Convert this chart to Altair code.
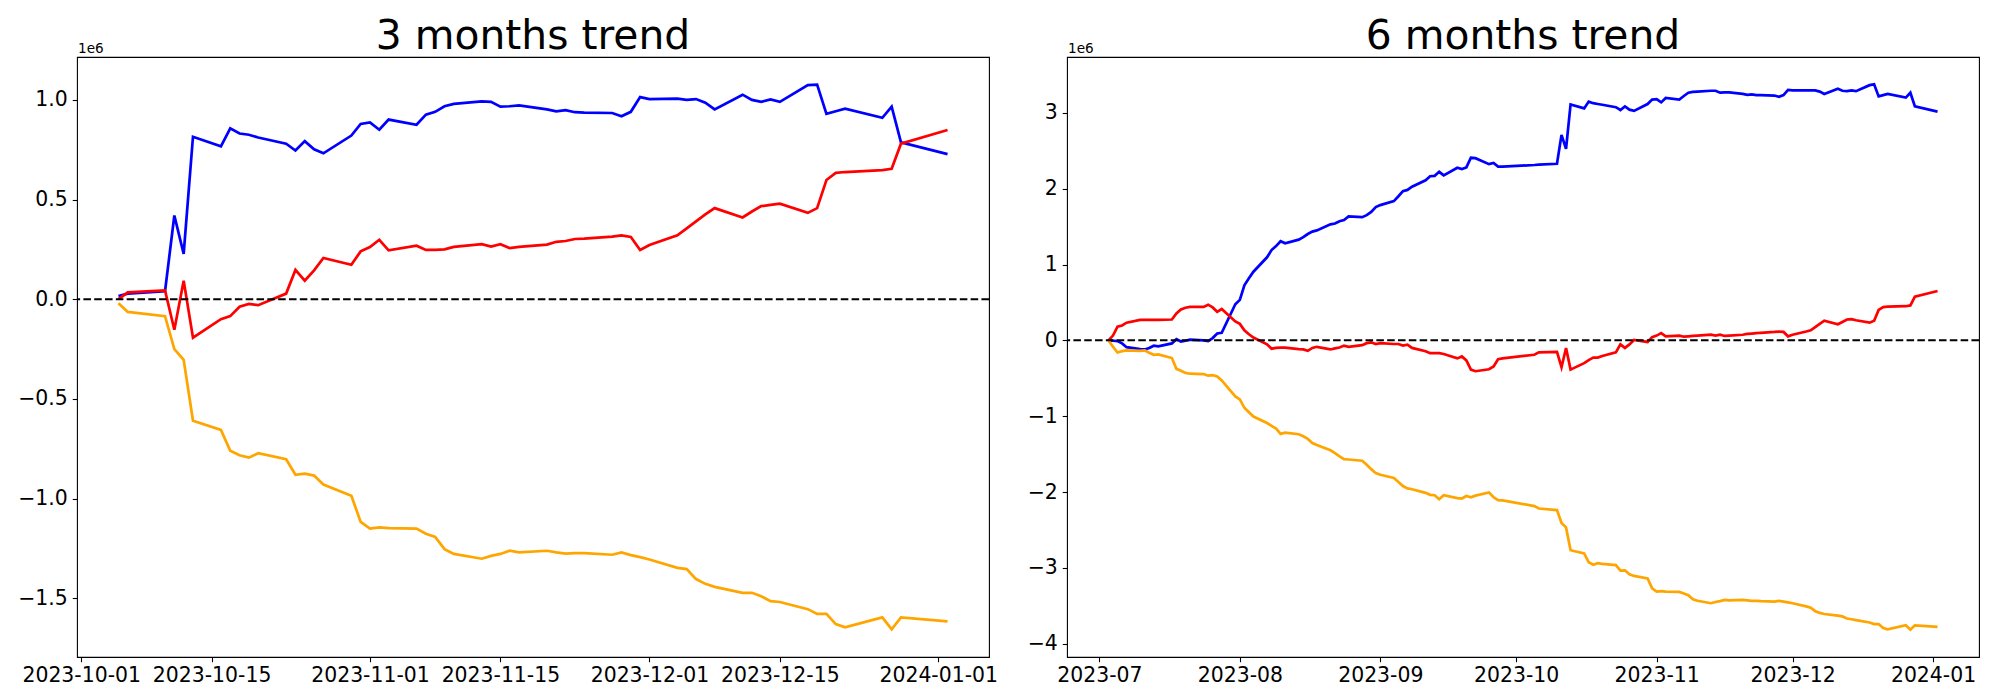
import altair as alt
import pandas as pd

# ---------------- 6 months panel ----------------
days_6m = {
    "2023-07": [3, 4, 5, 6, 7, 10, 11, 12, 13, 14, 17, 18, 19, 20, 21, 24, 25, 26, 27, 28, 31],
    "2023-08": [1, 2, 3, 4, 7, 8, 9, 10, 11, 14, 15, 16, 17, 18, 21, 22, 23, 24, 25, 28, 29, 30, 31],
    "2023-09": [1, 4, 5, 6, 7, 8, 11, 12, 13, 14, 15, 18, 19, 20, 21, 22, 25, 26, 27, 28],
    "2023-10": [5, 6, 10, 11, 12, 13, 16, 17, 18, 19, 20, 23, 24, 25, 26, 27, 30, 31],
    "2023-11": [1, 2, 3, 6, 7, 8, 9, 10, 13, 14, 15, 16, 17, 20, 21, 22, 23, 24, 27, 28, 29, 30],
    "2023-12": [1, 4, 5, 6, 7, 8, 11, 12, 13, 14, 15, 18, 19, 20, 21, 22, 26, 27, 28],
    "2024-01": [2],
}

blue_6m = [
    0.0, -0.005, -0.01, -0.04, -0.09, -0.116, -0.12, -0.10, -0.07, -0.08, -0.04, 0.015, -0.015, -0.005, 0.01, 0.0, -0.01, 0.03, 0.09, 0.10, 0.476,
    0.534, 0.725, 0.82, 0.905, 1.095, 1.19, 1.243, 1.307, 1.28, 1.328, 1.36, 1.402, 1.434, 1.45, 1.53, 1.54, 1.571, 1.587, 1.635, 1.624, 1.651, 1.693, 1.757,
    1.783, 1.836, 1.90, 1.968, 1.984, 2.026, 2.111, 2.164, 2.169, 2.222, 2.175, 2.275, 2.259, 2.28, 2.407, 2.402, 2.323, 2.339, 2.291, 2.291,
    2.312, 2.317, 2.328, 2.709, 2.524, 3.111, 3.058, 3.148, 3.127, 3.116, 3.106, 3.074, 3.037, 3.085, 3.042, 3.026, 3.116, 3.175,
    3.18, 3.138, 3.196, 3.175, 3.222, 3.265, 3.275, 3.28, 3.291, 3.291, 3.265, 3.27, 3.27, 3.249, 3.238, 3.243, 3.233, 3.233, 3.228, 3.212, 3.233, 3.302,
    3.296, 3.296, 3.296, 3.296, 3.28, 3.249, 3.317, 3.291, 3.286, 3.296, 3.286, 3.365, 3.376, 3.217, 3.233, 3.249, 3.201, 3.265, 3.085,
    3.016,
]
red_6m = [
    0.0, 0.063, 0.18, 0.196, 0.233, 0.27, 0.27, 0.27, 0.27, 0.27, 0.275, 0.355, 0.407, 0.43, 0.44, 0.44, 0.47, 0.434, 0.376, 0.413, 0.25,
    0.217, 0.132, 0.08, 0.037, -0.053, -0.11, -0.10, -0.095, -0.095, -0.116, -0.12, -0.138, -0.10, -0.085, -0.12, -0.106, -0.095, -0.069, -0.085, -0.063, -0.037, -0.026, -0.048,
    -0.037, -0.048, -0.048, -0.069, -0.058, -0.10, -0.143, -0.169, -0.169, -0.169, -0.18, -0.238, -0.212, -0.265, -0.386, -0.407, -0.381, -0.344, -0.249, -0.238,
    -0.19, -0.159, -0.153, -0.354, -0.10, -0.386, -0.30, -0.26, -0.228, -0.228, -0.206, -0.159, -0.053, -0.10, -0.053, 0.005, -0.021, 0.042,
    0.063, 0.095, 0.053, 0.063, 0.048, 0.053, 0.058, 0.063, 0.074, 0.063, 0.074, 0.058, 0.063, 0.074, 0.085, 0.09, 0.095, 0.10, 0.111, 0.116, 0.111, 0.053,
    0.074, 0.116, 0.132, 0.175, 0.217, 0.259, 0.212, 0.243, 0.275, 0.28, 0.265, 0.233, 0.259, 0.402, 0.439, 0.444, 0.45, 0.46, 0.577,
    0.651,
]
orange_6m = [
    0.0, -0.085, -0.16, -0.143, -0.132, -0.138, -0.132, -0.164, -0.19, -0.185, -0.233, -0.376, -0.402, -0.43, -0.44, -0.444, -0.466, -0.46, -0.476, -0.529, -0.74,
    -0.778, -0.889, -0.947, -1.005, -1.09, -1.127, -1.164, -1.233, -1.217, -1.238, -1.265, -1.30, -1.354, -1.38, -1.45, -1.487, -1.529, -1.566, -1.571, -1.587, -1.64, -1.698, -1.751,
    -1.772, -1.815, -1.868, -1.921, -1.952, -1.963, -2.011, -2.037, -2.042, -2.095, -2.042, -2.079, -2.085, -2.053, -2.069, -2.048, -2.005, -2.069, -2.106, -2.111,
    -2.185, -2.217, -2.238, -2.407, -2.466, -2.767, -2.81, -2.926, -2.958, -2.937, -2.947, -2.963, -3.037, -3.032, -3.085, -3.106, -3.138, -3.27,
    -3.312, -3.307, -3.312, -3.317, -3.339, -3.36, -3.413, -3.434, -3.466, -3.45, -3.439, -3.423, -3.429, -3.423, -3.429, -3.434, -3.434, -3.439, -3.444, -3.434, -3.444, -3.455,
    -3.466, -3.508, -3.524, -3.571, -3.593, -3.608, -3.63, -3.64, -3.667, -3.677, -3.688, -3.72, -3.741, -3.741, -3.794, -3.81, -3.757, -3.815, -3.757,
    -3.778,
]

# ---------------- 3 months panel ----------------
days_3m = {
    "2023-10": [5, 6, 10, 11, 12, 13, 16, 17, 18, 19, 20, 23, 24, 25, 26, 27, 30, 31],
    "2023-11": [1, 2, 3, 6, 7, 8, 9, 10, 13, 14, 15, 16, 17, 20, 21, 22, 23, 24, 27, 28, 29, 30],
    "2023-12": [1, 4, 5, 6, 7, 8, 11, 12, 13, 14, 15, 18, 19, 20, 21, 22, 26, 27, 28],
    "2024-01": [2],
}
blue_3m = [
    0.016, 0.028, 0.04, 0.42, 0.227, 0.815, 0.767, 0.857, 0.831, 0.825, 0.811, 0.78, 0.746, 0.793, 0.752, 0.732, 0.821, 0.879,
    0.887, 0.85, 0.901, 0.875, 0.926, 0.94, 0.968, 0.98, 0.992, 0.99, 0.966, 0.968, 0.972, 0.952, 0.942, 0.948, 0.938, 0.936, 0.934, 0.918, 0.94, 1.014,
    1.004, 1.006, 1.0, 1.004, 0.986, 0.952, 1.026, 1.0, 0.99, 1.002, 0.99, 1.074, 1.076, 0.93, 0.943, 0.956, 0.91, 0.966, 0.787,
    0.728,
]
red_3m = [
    0.0, 0.034, 0.044, -0.153, 0.093, -0.193, -0.10, -0.085, -0.038, -0.024, -0.03, 0.028, 0.147, 0.093, 0.145, 0.207, 0.173, 0.24,
    0.262, 0.298, 0.245, 0.268, 0.247, 0.247, 0.25, 0.262, 0.276, 0.264, 0.276, 0.256, 0.262, 0.274, 0.288, 0.292, 0.302, 0.304, 0.314, 0.32, 0.312, 0.247,
    0.272, 0.32, 0.355, 0.39, 0.425, 0.457, 0.41, 0.44, 0.467, 0.473, 0.479, 0.433, 0.457, 0.598, 0.634, 0.638, 0.648, 0.654, 0.78,
    0.849,
]
orange_3m = [
    -0.02, -0.064, -0.085, -0.25, -0.304, -0.61, -0.656, -0.76, -0.783, -0.795, -0.773, -0.803, -0.881, -0.875, -0.885, -0.93, -0.986, -1.117,
    -1.151, -1.145, -1.149, -1.151, -1.177, -1.193, -1.254, -1.278, -1.302, -1.288, -1.278, -1.262, -1.27, -1.262, -1.27, -1.276, -1.274, -1.274, -1.282, -1.27, -1.284, -1.294,
    -1.306, -1.348, -1.354, -1.404, -1.428, -1.443, -1.473, -1.473, -1.49, -1.515, -1.519, -1.555, -1.579, -1.579, -1.63, -1.646, -1.596, -1.656, -1.596,
    -1.616,
]

SERIES = ["blue", "red", "orange"]
COLORS = ["#0000ff", "#ff0000", "#ffa500"]
SCALE = 1e6  # values above are in units of 1e6

PANEL_W = 912
PANEL_H = 600


def expand_dates(days):
    out = []
    for ym, ds in days.items():
        out += ["%s-%02d" % (ym, d) for d in ds]
    return out


def long_frame(dates, series_values):
    rows = []
    for name, vals in zip(SERIES, series_values):
        assert len(vals) == len(dates)
        for d, v in zip(dates, vals):
            rows.append({"date": d, "value": v * SCALE, "series": name})
    return pd.DataFrame(rows)


df3 = long_frame(expand_dates(days_3m), [blue_3m, red_3m, orange_3m])
df6 = long_frame(expand_dates(days_6m), [blue_6m, red_6m, orange_6m])

FONT = "DejaVu Sans"


def DT(y, m, d, h=0, mi=0):
    return alt.DateTime(year=y, month=m, date=d, hours=h, minutes=mi, utc=True)


def panel(df, title, xdomain, xticks, xfmt, ydomain, yticks, yfmt):
    x = alt.X(
        "date:T",
        scale=alt.Scale(type="utc", domain=xdomain),
        axis=alt.Axis(values=xticks, labelExpr="utcFormat(datum.value, '%s')" % xfmt, title=None,
                      labelOverlap=False, labelFlush=False, labelPadding=4),
    )
    y = alt.Y(
        "value:Q",
        scale=alt.Scale(domain=ydomain, nice=False, zero=False),
        axis=alt.Axis(values=yticks, labelExpr="format(datum.value / 1e6, '%s')" % yfmt,
                      title=None, labelPadding=5),
    )
    lines = alt.Chart(df).mark_line(strokeWidth=2.72, clip=True).encode(
        x=x, y=y,
        color=alt.Color("series:N", scale=alt.Scale(domain=SERIES, range=COLORS), legend=None),
        detail="series:N",
    )
    zero = alt.Chart(pd.DataFrame({"value": [0.0]})).mark_rule(
        color="black", strokeDash=[7.55, 3.27], strokeWidth=2.04
    ).encode(y="value:Q")
    offset_txt = alt.Chart(pd.DataFrame({"t": ["1e6"]})).mark_text(
        align="left", baseline="alphabetic", fontSize=13.6, font=FONT, color="black", dx=1
    ).encode(x=alt.value(0), y=alt.value(-4.5), text="t:N")
    title_txt = alt.Chart(pd.DataFrame({"t": [title]})).mark_text(
        align="center", baseline="alphabetic", fontSize=40.8, font=FONT, color="black"
    ).encode(x=alt.value(PANEL_W / 2), y=alt.value(-8.2), text="t:N")
    return alt.layer(lines, zero, offset_txt, title_txt).properties(
        width=PANEL_W, height=PANEL_H,
    )


left = panel(
    df3, "3 months trend",
    [DT(2023, 9, 30, 13, 12), DT(2024, 1, 6, 10, 48)],
    [DT(2023, 10, 1), DT(2023, 10, 15), DT(2023, 11, 1), DT(2023, 11, 15),
     DT(2023, 12, 1), DT(2023, 12, 15), DT(2024, 1, 1)],
    "%Y-%m-%d",
    [-1.795e6, 1.215e6],
    [-1.5e6, -1.0e6, -0.5e6, 0.0, 0.5e6, 1.0e6],
    ".1f",
)
right = panel(
    df6, "6 months trend",
    [DT(2023, 6, 23, 20, 24), DT(2024, 1, 11, 3, 36)],
    [DT(2023, 7, 1), DT(2023, 8, 1), DT(2023, 9, 1), DT(2023, 10, 1),
     DT(2023, 11, 1), DT(2023, 12, 1), DT(2024, 1, 1)],
    "%Y-%m",
    [-4.175e6, 3.736e6],
    [-4e6, -3e6, -2e6, -1e6, 0.0, 1e6, 2e6, 3e6],
    ".0f",
)

chart = alt.hconcat(left, right, spacing=27).properties(
    padding={"left": 9, "top": 7, "right": 5, "bottom": 5},
    background="white",
).configure_view(
    stroke="black", strokeWidth=1.09
).configure_axis(
    domain=False, grid=False, ticks=True, tickColor="black", tickWidth=1.09, tickSize=4.76,
    labelFont=FONT, labelFontSize=20.4, labelColor="black",
)

chart.save("out.html", embed_options={"renderer": "svg", "actions": False})
